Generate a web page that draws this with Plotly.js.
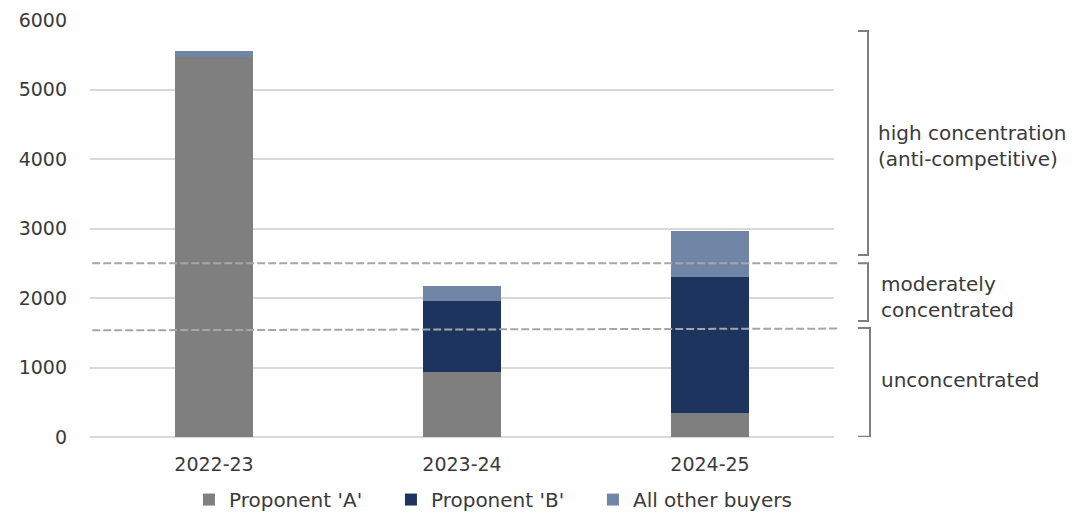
<!DOCTYPE html>
<html>
<head>
<meta charset="utf-8">
<script src="https://cdn.plot.ly/plotly-3.0.1.min.js"></script>
<style>
  html, body { margin: 0; padding: 0; background: #ffffff; }
  #chart { width: 1086px; height: 514px; }
</style>
</head>
<body>
<div id="chart"></div>
<script>
// Financial years on the category axis
const years = ['2022-23', '2023-24', '2024-25'];

// Stacked volumes by buyer
const proponentA = [5465, 940, 350];
const proponentB = [0, 1012, 1957];
const otherBuyers = [85, 225, 660];

// Series names and colours
const seriesNames = ["Proponent 'A'", "Proponent 'B'", 'All other buyers'];
const seriesColors = ['#7f7f7f', '#1d355e', '#7086a6'];

// Concentration thresholds (dashed guides): [left end, right end]
const upperThreshold = [2500, 2500];
const lowerThreshold = [1535, 1560];

// Concentration bands shown by the brackets on the right: [top, bottom]
const bandHigh = [5840, 2620];
const bandModerate = [2500, 1670];
const bandLow = [1570, 5];
const bandLabels = ['high concentration<br>(anti-competitive)', 'moderately<br>concentrated', 'unconcentrated'];
const bandLabelY = [4190, 2010, 820];

const yTicks = [0, 1000, 2000, 3000, 4000, 5000, 6000];

const FONT = 'DejaVu Sans, Open Sans, sans-serif';
const TEXT = '#3a3a3a';

const traces = [proponentA, proponentB, otherBuyers].map((vals, i) => ({
  type: 'bar',
  name: seriesNames[i],
  x: years,
  y: vals,
  marker: { color: seriesColors[i] },
  hoverinfo: 'x+y+name'
}));

// Bracket drawn in paper x / data y
function bracket(band, xv) {
  const xt = 1.0323;
  return {
    type: 'path', xref: 'paper', yref: 'y', layer: 'above',
    path: `M ${xt} ${band[0]} L ${xv} ${band[0]} L ${xv} ${band[1]} L ${xt} ${band[1]}`,
    line: { color: '#7f7f7f', width: 2 }
  };
}

function dashed(vals) {
  return {
    type: 'line', xref: 'paper', yref: 'y', layer: 'above',
    x0: 0.003, x1: 1.005, y0: vals[0], y1: vals[1],
    line: { color: '#a6a6a6', width: 2, dash: '8px,3px' }
  };
}

const annotations = bandLabels.map((t, i) => ({
  xref: 'paper', yref: 'y',
  x: i === 0 ? 1.056 : 1.06, y: bandLabelY[i],
  xanchor: 'left', yanchor: 'middle', align: 'left',
  text: t, showarrow: false,
  font: { family: FONT, size: 20, color: TEXT }
}));

const layout = {
  width: 1086, height: 514,
  margin: { l: 90, r: 252, t: 20, b: 77, autoexpand: false },
  paper_bgcolor: '#ffffff', plot_bgcolor: '#ffffff',
  barmode: 'stack',
  bargap: 0.685,
  showlegend: true,
  legend: {
    orientation: 'h', x: 0.133, xanchor: 'left', y: -0.15, yanchor: 'middle',
    font: { family: FONT, size: 20, color: TEXT },
    entrywidth: 157, entrywidthmode: 'pixels',
    traceorder: 'normal'
  },
  xaxis: {
    type: 'category', range: [-0.5, 2.5],
    showgrid: false, showline: false, zeroline: false,
    ticks: '', ticklabelstandoff: 14,
    tickfont: { family: FONT, size: 19, color: TEXT }
  },
  yaxis: {
    range: [0, 6000], tickvals: yTicks,
    showgrid: true, gridcolor: '#d9d9d9', gridwidth: 2,
    zeroline: true, zerolinecolor: '#d9d9d9', zerolinewidth: 2,
    showline: false, ticks: '', ticklabelstandoff: 22,
    tickfont: { family: FONT, size: 19, color: TEXT }
  },
  shapes: [
    dashed(upperThreshold), dashed(lowerThreshold),
    bracket(bandHigh, 1.0457), bracket(bandModerate, 1.0457), bracket(bandLow, 1.0484)
  ],
  annotations: annotations
};

Plotly.newPlot('chart', traces, layout, { displayModeBar: false, staticPlot: true });
</script>
</body>
</html>
